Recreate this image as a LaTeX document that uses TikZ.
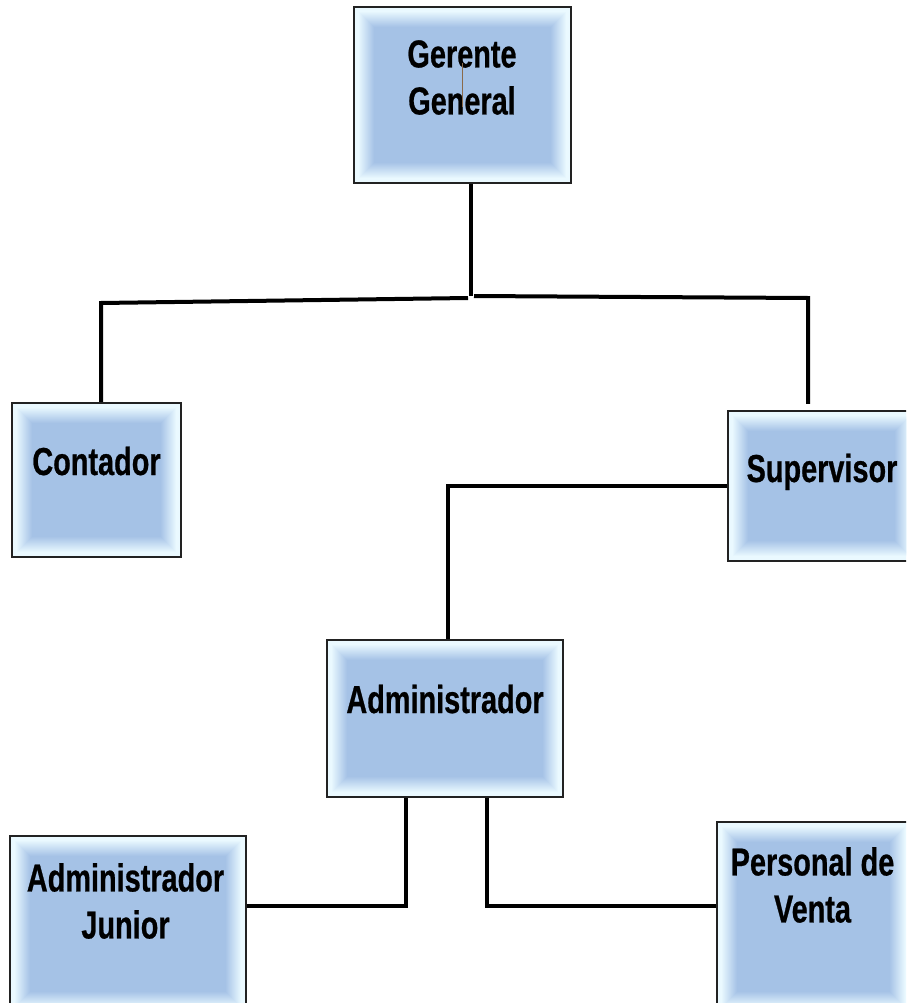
\documentclass[tikz,border=0pt]{standalone}
\usepackage{fontspec}
\setmainfont{Liberation Sans}[FakeStretch=0.74,FakeBold=0.6]
\definecolor{blight}{HTML}{EAF9FF}
\definecolor{bmid}{HTML}{A5C2E6}
\definecolor{bborder}{HTML}{222222}
\definecolor{stray}{HTML}{8A6A4A}
\tikzset{
  orgbox/.style={draw=bborder, line width=2.2pt, fill=blight, inner sep=0pt,
    minimum width=#1, path picture={
      \foreach \i in {0,...,19}{
        \pgfmathsetmacro\pp{min(100,\i*6.3)}
        \fill[bmid!\pp!blight]
          ([shift={(4pt+\i*1pt,-4pt-\i*1pt)}]path picture bounding box.north west)
          rectangle
          ([shift={(-4pt-\i*1pt,4pt+\i*1pt)}]path picture bounding box.south east);
      }
    }},
  lbl/.style={inner sep=0pt, align=center, font=\bfseries\fontsize{39}{47}\selectfont},
  conn/.style={line width=4pt, black, line join=miter}
}
\begin{document}
\begin{tikzpicture}[x=1pt,y=-1pt]
\clip (0,0) rectangle (906,1003);
\fill[white] (0,0) rectangle (906,1003);
% boxes
\node[orgbox=217pt, minimum height=176pt] (gg)   at (462.5,95)  {};
\node[orgbox=169pt, minimum height=154pt] (cont) at (96.5,480)  {};
\node[orgbox=187pt, minimum height=150pt] (sup)  at (821.5,486) {};
\node[orgbox=236pt, minimum height=157pt] (adm)  at (445,718.5) {};
\node[orgbox=236pt, minimum height=176pt] (adj)  at (128,924)   {};
\node[orgbox=193pt, minimum height=190pt] (pv)   at (813.5,917) {};
% labels
\node[lbl, anchor=north] (ggt) at (462,40) {\fontsize{39}{49}\selectfont Gerente\\General};
\node[lbl, anchor=base] (contt) at (96.5,475) {Contador};
\node[lbl, anchor=base] (supt) at (822,482) {Supervisor};
\node[lbl, anchor=base] (admt) at (445,713) {Administrador};
\node[lbl, anchor=north] (adjt) at (125.5,863) {\fontsize{39}{46}\selectfont Administrador\\Junior};
\node[lbl, anchor=north] (pvt) at (812.5,847) {\fontsize{39}{43}\selectfont Personal de\\Venta};
% stray mark
\coordinate (s1) at (462,63);
\coordinate (s2) at (462,107);
\draw[stray, line width=0.8pt] (s1) -- (s2);
% connectors
\coordinate (j) at (471,296);
\coordinate (jl) at (468,298);
\coordinate (jr) at (474,296);
\coordinate (lc) at (101,303);
\coordinate (rc) at (808,298);
\draw[conn] (gg.south -| j) -- (j);
\draw[conn] (jl) -- (lc) -- (lc |- cont.north);
\draw[conn] (jr) -- (rc) -- ([yshift=6pt]rc |- sup.north);
\coordinate (sa) at (448,486);
\draw[conn] (sup.west) -- (sa) -- (sa |- adm.north);
\coordinate (al) at (406,906);
\draw[conn] (al |- adm.south) -- (al) -- (adj.east |- al);
\coordinate (ar) at (487,906);
\draw[conn] (ar |- adm.south) -- (ar) -- (pv.west |- ar);
\end{tikzpicture}
\end{document}
